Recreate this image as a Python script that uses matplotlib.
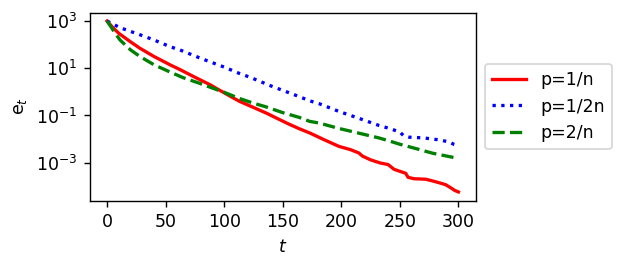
import numpy as np
import matplotlib
matplotlib.use("Agg")
import matplotlib.pyplot as plt

# p = 1/n (red, solid)
t_red = [0, 5, 10, 20, 28, 40, 54, 62, 75, 88, 95, 105, 113, 125, 136, 145, 155, 164,
         173, 185, 198, 208, 215, 218, 225, 233, 240, 245, 252, 255, 257, 262, 272,
         280, 289, 293, 297, 300]
log_red = [3.0, 2.72, 2.48, 2.12, 1.85, 1.50, 1.14, 0.95, 0.62, 0.30, 0.10, -0.18,
           -0.40, -0.66, -0.90, -1.12, -1.36, -1.56, -1.74, -2.02, -2.31, -2.45, -2.59,
           -2.72, -2.88, -3.01, -3.08, -3.28, -3.40, -3.45, -3.62, -3.68, -3.70, -3.80,
           -3.93, -4.05, -4.18, -4.24]

# p = 1/2n (blue, dotted)
t_blue = [0, 11, 28, 40, 54, 62, 80, 100, 113, 122, 140, 164, 173, 181, 198, 215, 232,
          241, 250, 253, 258, 270, 283, 292, 296, 300]
log_blue = [3.0, 2.72, 2.42, 2.2, 1.91, 1.78, 1.42, 1.05, 0.78, 0.62, 0.25, -0.20,
            -0.38, -0.50, -0.83, -1.12, -1.42, -1.55, -1.70, -1.85, -1.92, -1.95, -2.03,
            -2.12, -2.22, -2.28]

# p = 2/n (green, dashed)
t_green = [0, 3, 6, 11, 20, 28, 40, 52, 65, 78, 90, 100, 113, 125, 136, 150, 164, 173,
           181, 198, 215, 232, 241, 250, 265, 278, 290, 296, 300]
log_green = [3.0, 2.78, 2.55, 2.2, 1.78, 1.50, 1.15, 0.88, 0.60, 0.38, 0.16, -0.02,
             -0.28, -0.48, -0.64, -0.88, -1.08, -1.25, -1.32, -1.55, -1.75, -1.95, -2.08,
             -2.22, -2.42, -2.60, -2.72, -2.78, -2.82]

labels = ["p=1/n", "p=1/2n", "p=2/n"]
x_ticks = [0, 50, 100, 150, 200, 250, 300]

fig = plt.figure(figsize=(624 / 125, 266 / 125), dpi=125)
ax = fig.add_axes([89.5 / 624, 1 - 200.5 / 266, (476 - 89.5) / 624, (200.5 - 12.5) / 266])

ax.plot(t_red, 10 ** np.array(log_red), color="red", linestyle="-", lw=1.9, label=labels[0])
ax.plot(t_blue, 10 ** np.array(log_blue), color="blue", linestyle=":", lw=1.9, label=labels[1])
ax.plot(t_green, 10 ** np.array(log_green), color="green", linestyle="--", lw=1.9, label=labels[2])

ax.set_yscale("log")
ax.set_yticks([1e3, 1e1, 1e-1, 1e-3])
ax.yaxis.set_minor_locator(matplotlib.ticker.NullLocator())
ax.set_xticks(x_ticks)
ax.set_xlabel("$t$")
ax.set_ylabel("e$_t$")
ax.legend(loc="center left", bbox_to_anchor=(1, 0.5))

fig.savefig("out.png", dpi=125)
